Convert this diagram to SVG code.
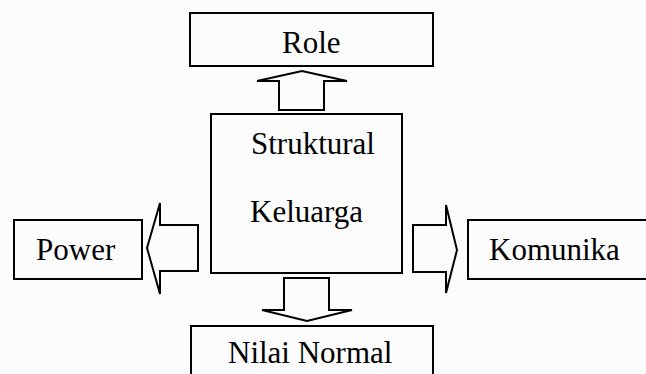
<svg xmlns="http://www.w3.org/2000/svg" width="646" height="374" viewBox="0 0 646 374">
<style>
.box{fill:none;stroke:#000;stroke-width:2}
.arr{fill:none;stroke:#000;stroke-width:2;stroke-linejoin:miter}
.t{font-family:"Liberation Serif","Times New Roman",serif;font-size:31px;fill:#000}
</style>
<rect width="646" height="374" fill="#fcfcfd"/>
<g id="connectors">
<polygon id="arrow-up" class="arr" points="279,110 279,81 257,81 302,71 347,81 324,81 324,110"/>
<polygon id="arrow-down" class="arr" points="284,278 284,310 262,310 307,321 352,310 329,310 329,278"/>
<polygon id="arrow-left" class="arr" points="198,225 160,225 160,203 147,248 160,294 160,271 198,271"/>
<polygon id="arrow-right" class="arr" points="413,225 446,225 446,205 457,250 446,293 446,272 413,272"/>
</g>
<g id="node-role">
<rect class="box" x="190" y="13" width="243" height="53"/>
<text class="t" x="282" y="53">Role</text>
</g>
<g id="node-struktural">
<rect class="box" x="211" y="114" width="191" height="159"/>
<text class="t" x="251" y="154">Struktural</text>
<text class="t" x="250" y="222">Keluarga</text>
</g>
<g id="node-power">
<rect class="box" x="14" y="220" width="128" height="59"/>
<text class="t" x="36" y="260">Power</text>
</g>
<g id="node-komunika">
<rect class="box" x="468" y="220" width="190" height="59"/>
<text class="t" x="489" y="260">Komunika</text>
</g>
<g id="node-nilai">
<rect class="box" x="191" y="326" width="242" height="60"/>
<text class="t" x="228" y="363">Nilai Normal</text>
</g>
</svg>
